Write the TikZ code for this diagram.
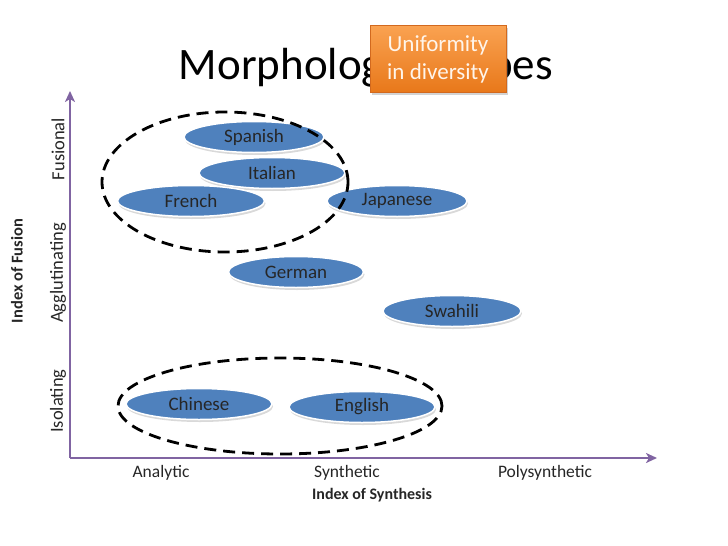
\documentclass[tikz,border=0pt]{standalone}
\usepackage{fontspec}
\setmainfont{Carlito}
\usetikzlibrary{shapes.geometric,shadows,arrows.meta}
\definecolor{langblue}{HTML}{4F81BD}
\definecolor{axispurple}{HTML}{8064A2}
\definecolor{boxtop}{HTML}{FAA251}
\definecolor{boxbottom}{HTML}{E8781A}
\definecolor{boxedge}{HTML}{D2691E}
\begin{document}
\begin{tikzpicture}[x=1pt,y=-1pt,
  lang/.style={ellipse,fill=langblue,draw=white,line width=1.5pt,inner sep=0pt,
    minimum height=31pt,font=\fontsize{19}{21}\selectfont,text=black!85,
    drop shadow={opacity=0.3,shadow xshift=1pt,shadow yshift=-2.5pt}},
  axis/.style={draw=axispurple,line width=2.8pt,-{Stealth[length=11pt,width=10pt,inset=3pt]}},
  tick/.style={font=\fontsize{17.5}{19}\selectfont,text=black!85},
  sidetick/.style={rotate=90,font=\fontsize{18.5}{20}\selectfont,text=black!85},
  group/.style={draw=black,line width=2.8pt,dash pattern=on 12pt off 7pt}]
\useasboundingbox (0,0) rectangle (728,546);

\node (title) at (366,68) {\fontsize{45}{48}\selectfont Morphological types};

\coordinate (origin) at (70,458);
\coordinate (ytop) at (70,91);
\coordinate (xend) at (657,458);
\draw[axis] (origin) -- (ytop);
\draw[axis] (origin) -- (xend);

\node[lang,minimum width=140pt] (spanish) at (254,137) {Spanish};
\node[lang,minimum width=146pt] (italian) at (272,173) {Italian};
\node[lang,minimum width=147pt] (french) at (191,201) {French};
\node[lang,minimum width=140pt] (japanese) at (397,201) {Japanese};
\node[lang,minimum width=135pt] (german) at (296,272) {German};
\node[lang,minimum width=138pt] (swahili) at (452,311) {Swahili};
\node[lang,minimum width=146pt] (chinese) at (199,404) {Chinese};
\node[lang,minimum width=146pt] (english) at (362,407) {English};

\draw[group] (225,182) ellipse [x radius=123pt, y radius=70pt];
\draw[group] (280,406) ellipse [x radius=162pt, y radius=48pt];

\node[sidetick] (fusional) at (58,149) {Fusional};
\node[sidetick] (aggl) at (58,273) {Agglutinating};
\node[sidetick] (isolating) at (58,401) {Isolating};
\node[sidetick,font=\bfseries\fontsize{16.5}{18}\selectfont] (fusion) at (17,271) {Index of Fusion};

\node[tick] (analytic) at (161,473) {Analytic};
\node[tick] (synthetic) at (347,473) {Synthetic};
\node[tick] (poly) at (545,473) {Polysynthetic};
\node[tick,font=\bfseries\fontsize{16}{18}\selectfont] (synthesis) at (372,495) {Index of Synthesis};

\node[draw=boxedge,line width=0.8pt,top color=boxtop,bottom color=boxbottom,
  minimum width=136pt,minimum height=67pt,align=center,text=white!92!orange,
  font=\fontsize{23}{28}\selectfont,
  drop shadow={opacity=0.35,shadow xshift=1.5pt,shadow yshift=-2.5pt}] (motto) at (438,59)
  {Uniformity\\in diversity};

\end{tikzpicture}
\end{document}
